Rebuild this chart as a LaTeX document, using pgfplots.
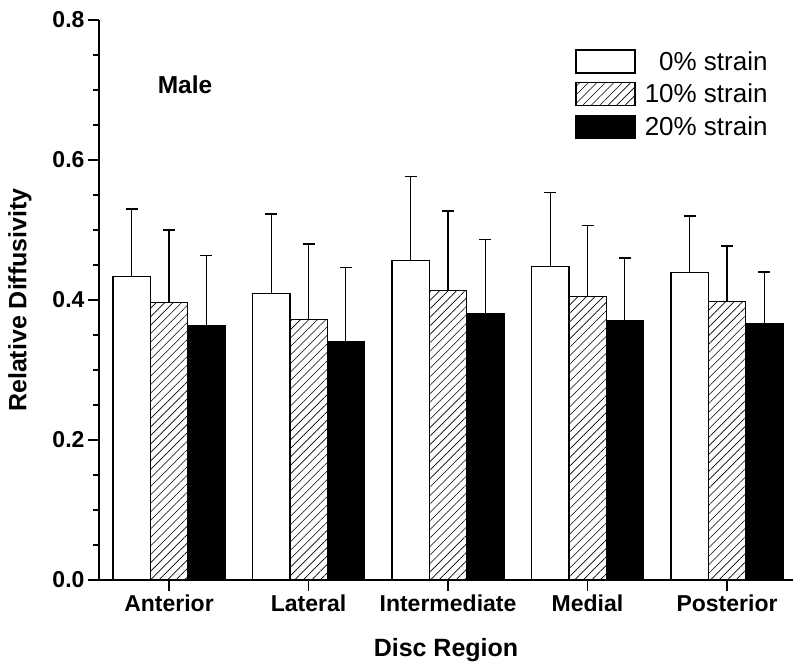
\documentclass[border=0pt]{standalone}
\usepackage{fontspec}
\setmainfont{Liberation Sans}
\usepackage{pgfplots}
\usepackage{pgfplotstable}
\pgfplotsset{compat=1.18}
\usetikzlibrary{patterns.meta}

\pgfplotstableread{
x v0 e0 v10 e10 v20 e20
0 0.434 0.096 0.396 0.104 0.363 0.101
1 0.409 0.114 0.372 0.108 0.341 0.105
2 0.456 0.120 0.414 0.113 0.380 0.106
3 0.448 0.106 0.405 0.101 0.370 0.090
4 0.439 0.081 0.398 0.079 0.366 0.074
}\data

\begin{document}
\begin{tikzpicture}
\useasboundingbox (-99pt,-91pt) rectangle (694pt,580pt);
\begin{axis}[
  scale only axis, width=694pt, height=560pt,
  at={(0,0)}, anchor=south west,
  xmin=-0.502, xmax=4.473, ymin=0, ymax=0.8,
  axis x line=bottom, axis y line=left,
  axis line style={line width=2pt, -},
  xtick={0,1,2,3,4},
  xticklabels={Anterior,Lateral,Intermediate,Medial,Posterior},
  ytick={0,0.2,0.4,0.6,0.8},
  minor y tick num=3,
  minor x tick num=0,
  tick align=outside,
  major tick length=11pt, minor tick length=6pt,
  tick style={line width=1.5pt, black},
  /pgf/number format/assume math mode=true,
  yticklabel style={/pgf/number format/fixed, /pgf/number format/precision=1, /pgf/number format/fixed zerofill},
  ticklabel style={font=\bfseries\fontsize{23}{23}\selectfont},
  xlabel={Disc Region}, ylabel={Relative Diffusivity},
  xlabel style={font=\bfseries\fontsize{25}{25}\selectfont, at={(axis description cs:0.5,0)}, yshift=-70pt, anchor=center},
  ylabel style={font=\bfseries\fontsize{25}{25}\selectfont, at={(axis description cs:-0.1138,0.5)}, anchor=center},
  ybar=0pt, bar width=37.3pt,
  clip=false,
  legend style={draw=none, fill=none, at={(axis description cs:0.968,0.95)}, anchor=north east, inner sep=0pt, row sep=6.5pt, font=\fontsize{26}{26}\selectfont, nodes={inner sep=3pt},
    /tikz/every odd column/.append style={column sep=6pt}},
  legend cell align=right,
  legend image code/.code={\draw[#1, line width=1.3pt] (0pt,-11.5pt) rectangle (59pt,11.5pt);},
  error bars/y dir=plus, error bars/y explicit,
  error bars/error mark options={rotate=90, mark size=6pt, line width=1.3pt, black},
  error bars/error bar style={line width=1.3pt, black},
]
\addplot[draw=black, line width=1.3pt, fill=white] table[x=x, y=v0, y error=e0] {\data};
\addplot[draw=black, line width=1.3pt, pattern={Lines[angle=45,distance=6pt,line width=0.6pt]}] table[x=x, y=v10, y error=e10] {\data};
\addplot[draw=black, line width=1.3pt, fill=black] table[x=x, y=v20, y error=e20] {\data};
\legend{0\% strain, 10\% strain, 20\% strain}
\node[font=\bfseries\fontsize{24.5}{24.5}\selectfont] at (axis cs:0.115,0.707) {Male};
\end{axis}
\end{tikzpicture}
\end{document}
